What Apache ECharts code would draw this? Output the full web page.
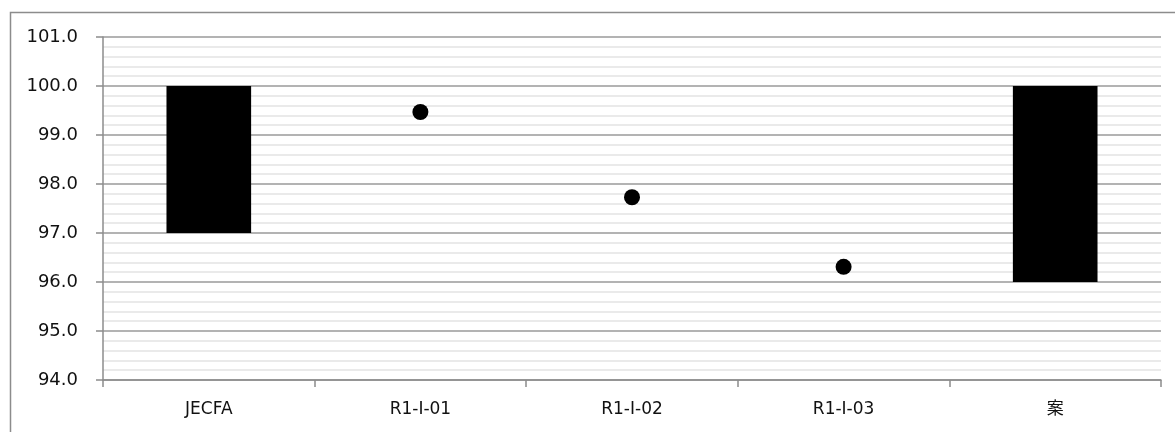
<!DOCTYPE html>
<html>
<head>
<meta charset="utf-8">
<script src="https://cdn.jsdelivr.net/npm/echarts@6/dist/echarts.min.js"></script>
<style>
html,body{margin:0;padding:0;background:#fff;}
#c{width:1175px;height:432px;}
</style>
</head>
<body>
<div id="c"></div>
<script>
const categories = ['JECFA', 'R1-I-01', 'R1-I-02', 'R1-I-03', '案'];
const rangeLow = [97.0, null, null, null, 96.0];
const rangeHigh = [100.0, null, null, null, 100.0];
const pointValues = [null, 99.47, 97.73, 96.31, null];
const yTicks = { min: 94, max: 101, interval: 1 };

const FONT = '"DejaVu Sans", "Noto Sans CJK JP", sans-serif';
const rangeSpan = rangeHigh.map((h, i) => (h == null || rangeLow[i] == null) ? null : +(h - rangeLow[i]).toFixed(4));

const chart = echarts.init(document.getElementById('c'), null, { renderer: 'canvas' });
chart.setOption({
  animation: false,
  backgroundColor: '#fff',
  graphic: [{
    type: 'rect',
    shape: { x: 10.5, y: 12.5, width: 1300, height: 600 },
    style: { fill: 'none', stroke: '#8c8c8c', lineWidth: 1.5 },
    silent: true, z: -10
  }],
  grid: { left: 103, right: 14, top: 37, bottom: 52 },
  xAxis: {
    type: 'category',
    data: categories,
    boundaryGap: true,
    axisLine: { lineStyle: { color: '#8c8c8c', width: 1.5 } },
    axisTick: { show: true, interval: 0, length: 7, alignWithLabel: false, lineStyle: { color: '#8c8c8c', width: 1.5 } },
    axisLabel: { color: '#111', fontSize: 17, fontFamily: FONT, margin: 21, interval: 0 },
    splitLine: { show: false }
  },
  yAxis: {
    type: 'value',
    min: yTicks.min, max: yTicks.max, interval: yTicks.interval,
    axisLine: { show: true, lineStyle: { color: '#8c8c8c', width: 1.5 } },
    axisTick: { show: true, length: 7, lineStyle: { color: '#8c8c8c', width: 1.5 } },
    axisLabel: { color: '#111', fontSize: 18, fontFamily: FONT, margin: 25, formatter: v => v.toFixed(1) },
    splitLine: { show: true, lineStyle: { color: '#9a9a9a', width: 1.5 } },
    minorTick: { show: false, splitNumber: 5 },
    minorSplitLine: { show: true, lineStyle: { color: '#e4e4e4', width: 1.5 } }
  },
  series: [
    {
      type: 'bar', stack: 'r', data: rangeLow, barWidth: '40%',
      itemStyle: { color: 'rgba(0,0,0,0)' }, silent: true
    },
    {
      type: 'bar', stack: 'r', data: rangeSpan, barWidth: '40%',
      itemStyle: { color: '#000' }
    },
    {
      type: 'scatter', data: pointValues, symbol: 'circle', symbolSize: 16,
      itemStyle: { color: '#000', opacity: 1 }, z: 5
    }
  ]
});
</script>
</body>
</html>
